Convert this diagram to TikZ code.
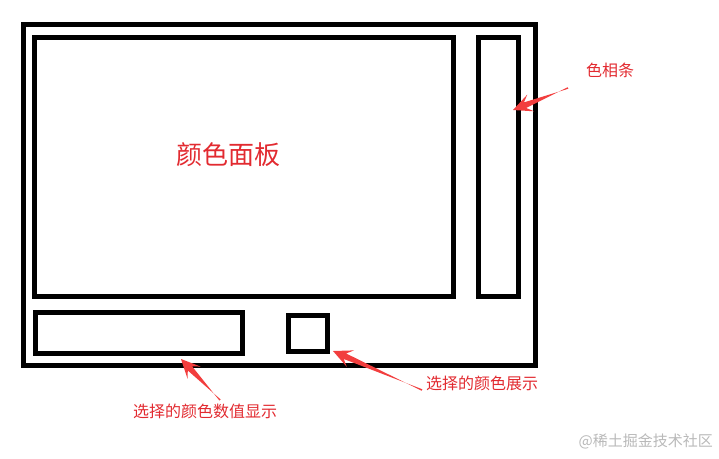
\documentclass[tikz,border=0pt]{standalone}
\usepackage{fontspec}
\setmainfont{Noto Sans CJK SC}
\usetikzlibrary{calc}
\definecolor{labelred}{RGB}{226,42,48}
\definecolor{arrowred}{RGB}{242,62,62}
\definecolor{markgray}{RGB}{185,185,185}
% tapered red pointer from #1 (tail) to #2 (tip)
\newcommand{\pointer}[2]{%
	\fill[arrowred] ($(#1)!0.8pt!90:(#2)$) -- ($($(#2)!13pt!(#1)$)!3pt!-90:(#2)$)
		-- ($($(#2)!19pt!(#1)$)!9pt!-90:(#2)$) -- (#2)
		-- ($($(#2)!19pt!(#1)$)!9pt!90:(#2)$)
		-- ($($(#2)!13pt!(#1)$)!3pt!90:(#2)$) -- ($(#1)!0.8pt!-90:(#2)$) -- cycle;}
\begin{document}
\begin{tikzpicture}[
	x=1pt, y=-1pt,
	box/.style={rectangle, draw, line width=5pt, inner sep=0pt, outer sep=0pt},
	label/.style={text=labelred, inner sep=0pt, font=\fontsize{16}{18}\selectfont}
	]
	\useasboundingbox (0,0) rectangle (719,458);
	
	% Frame and parts
	\node[box, minimum width=511.5, minimum height=341] (frame) at (279.25,195) {};
	\node[box, minimum width=418.5, minimum height=259] (panel) at (243.75,166.5) {};
	\node[box, minimum width=40, minimum height=259] (hue) at (498,166.5) {};
	\node[box, minimum width=207.3, minimum height=40.7] (value) at (138.65,332.65) {};
	\node[box, minimum width=38.6, minimum height=36.7] (swatch) at (308,333.35) {};
	
	% Labels
	\node[label, font=\fontsize{26}{30}\selectfont] (panelText) at (228,155) {颜色面板};
	\node[label] (hueText) at (610,70) {色相条};
	\node[label] (swatchText) at (482,383) {选择的颜色展示};
	\node[label] (valueText) at (205,411) {选择的颜色数值显示};
	\node[text=markgray, inner sep=0pt, anchor=east, font=\fontsize{15}{17}\selectfont] (mark) at (713,441) {@稀土掘金技术社区};
	
	% Pointers
	\coordinate (hueTail) at (568,88);
	\coordinate (hueTip) at (513,110);
	\coordinate (swatchTail) at (422,390);
	\coordinate (swatchTip) at (333,351);
	\coordinate (valueTail) at (220,400);
	\coordinate (valueTip) at (181,359);
	\foreach \p in {hue,swatch,value} {
		\pointer{\p Tail}{\p Tip}
	}
\end{tikzpicture}
\end{document}
